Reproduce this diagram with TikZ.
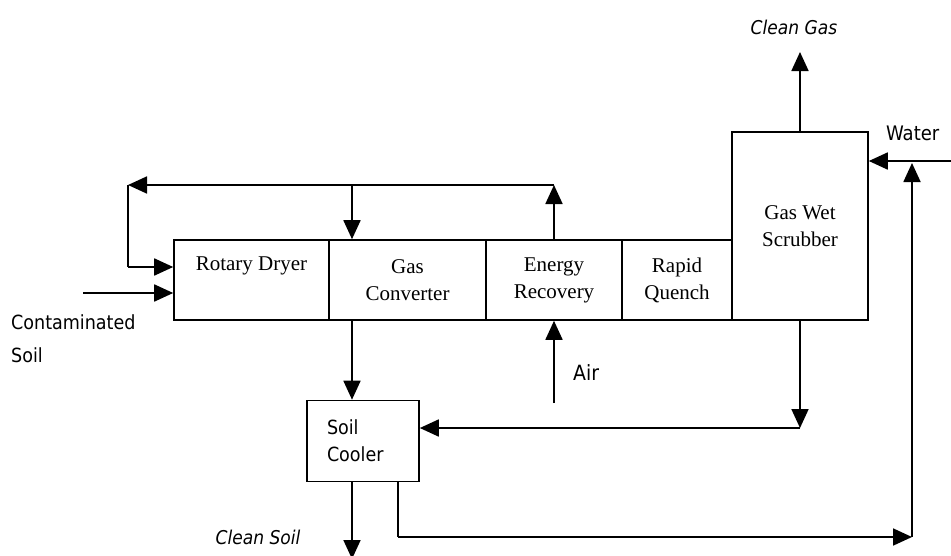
\documentclass[tikz,border=0pt]{standalone}
\usepackage{fontspec}
\setmainfont{Liberation Serif}
\newfontfamily\lblfont{DejaVu Sans Condensed}
\usetikzlibrary{arrows.meta}
\begin{document}
\begin{tikzpicture}[x=1pt,y=-1pt,
 box/.style={draw,line width=1.6pt,inner sep=0pt,align=center,font=\fontsize{21}{27}\selectfont},
 flow/.style={line width=1.8pt,-{Triangle[length=19pt,width=17pt]}},
 plain/.style={line width=1.8pt},
 lbl/.style={font=\lblfont\fontsize{19.5}{22}\selectfont,inner sep=0pt},
 ilbl/.style={font=\lblfont\itshape\fontsize{19}{22}\selectfont,inner sep=0pt}]
\useasboundingbox (0,0) rectangle (951,555);
% process boxes
\node[box,minimum width=155pt,minimum height=80pt] (rd) at (251.5,280) {\raisebox{-4pt}{Rotary Dryer}\\\strut};
\node[box,minimum width=157pt,minimum height=80pt] (gc) at (407.5,280) {Gas\\Converter};
\node[box,minimum width=136pt,minimum height=80pt] (er) at (554,280) {Energy\\Recovery};
\node[box,minimum width=110pt,minimum height=80pt] (rq) at (677,280) {Rapid\\Quench};
\node[box,minimum width=136pt,minimum height=188pt] (ws) at (800,226) {Gas Wet\\Scrubber};
\node[box,minimum width=112pt,minimum height=81pt,align=left,text width=72pt,font=\lblfont\fontsize{19.5}{27}\selectfont] (sc) at (363,441) {Soil\\Cooler};
% coordinates
\coordinate (tr) at (554,185);
\coordinate (tl) at (128,185);
\coordinate (lb) at (128,267);
\coordinate (dn) at (352,185);
\coordinate (cs) at (83,293);
\coordinate (air) at (554,403);
\coordinate (wsb) at (800,428);
\coordinate (cg) at (800,52);
\coordinate (wa) at (951,161);
\coordinate (r1) at (398,537);
\coordinate (r2) at (912,537);
\coordinate (r3) at (912,163);
\coordinate (cso) at (352,559);
% connectors
\draw[flow] (er.north) -- (tr);
\draw[plain] (tl) -- (lb);
\draw[flow] (tr) -- (tl);
\draw[flow] (lb) -- (rd.west |- lb);
\draw[flow] (dn) -- (dn |- gc.north);
\draw[flow] (cs) -- (rd.west |- cs);
\draw[flow] (gc.south -| dn) -- (sc.north -| dn);
\draw[flow] (air) -- (er.south);
\draw[flow] (ws.south) -- (wsb);
\draw[flow] (wsb) -- (sc.east |- wsb);
\draw[flow] (ws.north) -- (cg);
\draw[flow] (wa) -- (ws.east |- wa);
\draw[plain] (sc.south -| r1) -- (r1);
\draw[flow] (r1) -- (r2);
\draw[flow] (r2) -- (r3);
\draw[flow] (sc.south -| dn) -- (cso);
% labels
\node[lbl,anchor=west] (lc1) at (11,322) {Contaminated};
\node[lbl,anchor=west] (lc2) at (11,355) {Soil};
\node[ilbl] (lcg) at (794,27) {Clean Gas};
\node[lbl,anchor=west,font=\lblfont\fontsize{20}{22}\selectfont] (lw) at (886,133) {Water};
\node[lbl,anchor=west,font=\lblfont\fontsize{21}{22}\selectfont] (la) at (573,373) {Air};
\node[ilbl] (lcso) at (258,537) {Clean Soil};
\end{tikzpicture}
\end{document}
